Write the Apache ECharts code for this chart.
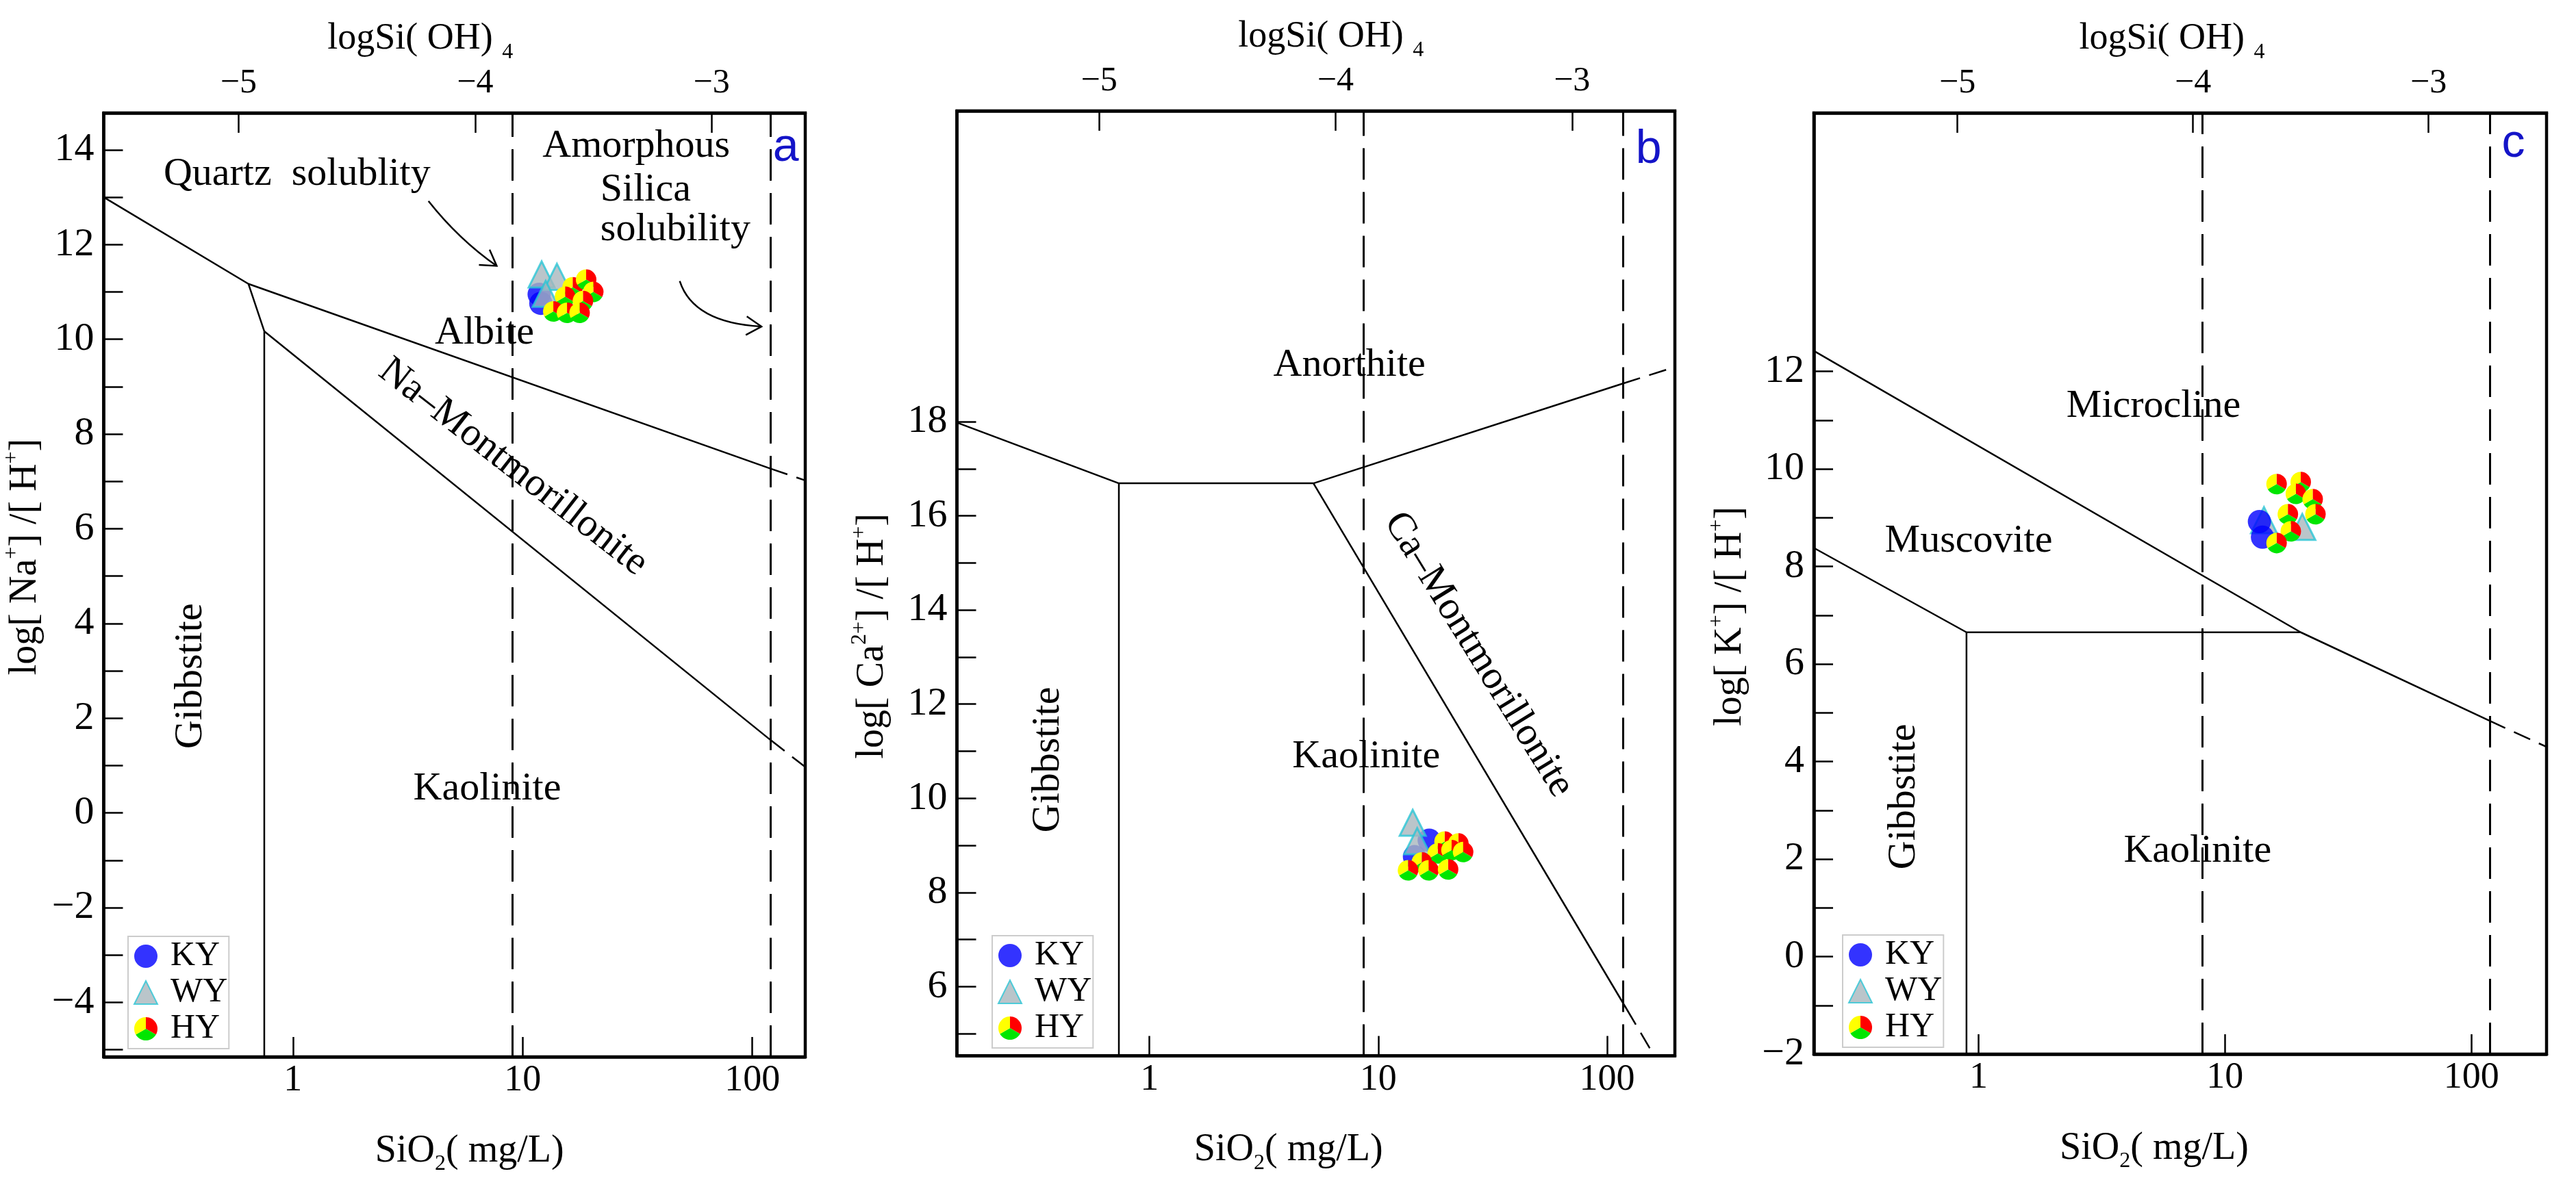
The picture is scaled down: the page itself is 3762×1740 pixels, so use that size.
<!DOCTYPE html>
<html>
<head>
<meta charset="utf-8" />
<title>Silicate stability diagrams</title>
<style>
  html, body { margin: 0; padding: 0; background: #fff; }
  #main { width: 3762px; height: 1740px; }
</style>
</head>
<body>
<div id="main"></div>
<script src="https://cdn.jsdelivr.net/npm/echarts@6/dist/echarts.min.js"></script>
<script>
// ---- axis ranges (SiO2 mg/L on log scale, logSi(OH)4 on top, log ratio on y) ----
var siRangeA = [0.15, 170],  siRangeB = [0.144, 198], siRangeC = [0.2145, 202];
var ohRangeA = [-5.570, -2.604], ohRangeB = [-5.601, -2.565], ohRangeC = [-5.609, -2.499];
var yRangeA = [-5.15, 14.78], yRangeB = [4.53, 24.6], yRangeC = [-2, 17.3];

var siTicks = [1, 10, 100];
var ohTicks = [-5, -4, -3];
var yTicksA = [-5, -4, -3, -2, -1, 0, 1, 2, 3, 4, 5, 6, 7, 8, 9, 10, 11, 12, 13, 14];
var yLabelsA = [-4, -2, 0, 2, 4, 6, 8, 10, 12, 14];
var yTicksB = [5, 6, 7, 8, 9, 10, 11, 12, 13, 14, 15, 16, 17, 18];
var yLabelsB = [6, 8, 10, 12, 14, 16, 18];
var yTicksC = [-2, -1, 0, 1, 2, 3, 4, 5, 6, 7, 8, 9, 10, 11, 12];
var yLabelsC = [-2, 0, 2, 4, 6, 8, 10, 12];

// ---- phase boundaries ----
// a: Na system
var albiteA     = [[0.15, 13.0], [0.64, 11.17], [120, 7.27]];
var albiteDashA = [[120, 7.27], [170, 7.02]];
var gibbsiteA   = [[0.64, 11.17], [0.75, 10.17], [0.75, -5.15]];
var naMontA     = [[0.75, 10.17], [120, 1.54]];
var naMontDashA = [[120, 1.54], [170, 0.97]];
var silicaLinesA = [9.0, 120];
// b: Ca system
var anorthiteB  = [[0.144, 17.98], [0.735, 16.69], [5.21, 16.69], [117.5, 18.81]];
var anorthDashB = [[117.5, 18.81], [198, 19.16]];
var gibbsiteB   = [[0.735, 16.69], [0.735, 4.53]];
var caMontB     = [[5.21, 16.69], [122, 5.52]];
var caMontDashB = [[122, 5.52], [161, 4.53]];
var silicaLinesB = [8.63, 117.5];
// c: K system
var microclineC = [[0.2145, 12.42], [20.3, 6.65], [118, 4.84]];
var microDashC  = [[118, 4.84], [202, 4.30]];
var muscoviteC  = [[0.2145, 8.38], [0.893, 6.65], [20.3, 6.65]];
var gibbsiteC   = [[0.893, 6.65], [0.893, -2]];
var silicaLinesC = [8.1, 119];

// ---- samples [SiO2 mg/L, log ratio] ----
var kyA = [[11.8, 10.95], [12.0, 10.76]];
var wyA = [[12.1, 11.37], [14.1, 11.32], [12.6, 10.96]];
var hyA = [[16.5, 11.10], [18.9, 11.26], [20.3, 11.0], [15.3, 10.90], [18.3, 10.81],
           [13.6, 10.59], [15.6, 10.56], [17.7, 10.56]];
var kyB = [[16.7, 9.11], [14.4, 8.76]];
var wyB = [[14.15, 9.48], [14.8, 9.09]];
var hyB = [[19.5, 9.08], [22.4, 9.04], [18.2, 8.83], [20.9, 8.90], [23.5, 8.86],
           [15.5, 8.64], [13.5, 8.47], [16.6, 8.47], [20.2, 8.49]];
var kyC = [[13.8, 8.92], [14.2, 8.60]];
var wyC = [[14.4, 8.95], [20.6, 8.81]];
var hyC = [[16.2, 9.69], [20.3, 9.73], [19.4, 9.49], [22.7, 9.38], [18.0, 9.07],
           [23.3, 9.07], [18.5, 8.72], [16.2, 8.48]];

// ---- field labels ----
var textA = ['Quartz  solublity', 'Amorphous', 'Silica', 'solubility', 'Albite',
             'Na\u2013Montmorillonite', 'Gibbstite', 'Kaolinite', 'a'];
var textPosA = [[0.2733, 13.48], [12.2, 14.08], [21.8, 13.15], [21.8, 12.31], [6.82, 10.13],
                [9.08, 7.30], [0.36, 2.89], [7.01, 0.50], [140, 14.04]];
var textB = ['Anorthite', 'Ca\u2013Montmorillonite', 'Gibbstite', 'Kaolinite', 'b'];
var textPosB = [[7.48, 19.19], [27.4, 13.05], [0.361, 10.82], [8.86, 10.88], [152, 23.77]];
var textC = ['Microcline', 'Muscovite', 'Gibbstite', 'Kaolinite', 'c'];
var textPosC = [[5.13, 11.28], [0.911, 8.51], [0.50, 3.28], [7.74, 2.16], [148, 16.66]];

// arrows in panel a: [x0, y0, ctrlX, ctrlY, x1, y1]
var arrowsA = [[3.89, 12.92, 5.27, 12.11, 7.71, 11.55],
               [48.3, 11.23, 55.3, 10.35, 109.6, 10.27]];

var FONT = 'Liberation Serif';
var MINUS = function (v) { return String(Math.round(v)).replace('-', '\u2212'); };

var grids = [
  { left: 151.5, top: 165, width: 1024.5, height: 1379 },
  { left: 1397.5, top: 162, width: 1048.5, height: 1380.6 },
  { left: 2649, top: 165, width: 1070, height: 1375 }
];
grids.forEach(function (g) { g.show = true; g.borderColor = '#000'; g.borderWidth = 4.5; });

var supRich = {
  sup: { fontSize: 32, lineHeight: 34, verticalAlign: 'top', fontFamily: FONT, color: '#000' },
  sub: { fontSize: 32, lineHeight: 34, verticalAlign: 'bottom', fontFamily: FONT, color: '#000' }
};

function bottomAxis(i, range, pad) {
  return {
    type: 'log', logBase: 10, gridIndex: i, position: 'bottom', min: range[0], max: range[1],
    axisLine: { show: true, onZero: false, lineStyle: { color: '#000', width: 4.5 } },
    axisTick: { show: true, inside: true, length: 29, customValues: siTicks,
                lineStyle: { color: '#000', width: 2.5 } },
    axisLabel: { customValues: siTicks, margin: 8, fontSize: 54, fontFamily: FONT, color: '#000',
                 formatter: function (v) { return String(Math.round(v)); } },
    splitLine: { show: false }, minorTick: { show: false },
    name: 'SiO{sub|2}( mg/L)', nameLocation: 'middle', nameGap: 103,
    nameTextStyle: { fontSize: 56, fontFamily: FONT, color: '#000', lineHeight: 70, padding: pad, rich: supRich }
  };
}
function topAxis(i, range, pad) {
  return {
    type: 'value', gridIndex: i, position: 'top', min: range[0], max: range[1],
    axisLine: { show: true, onZero: false, lineStyle: { color: '#000', width: 4.5 } },
    axisTick: { show: true, inside: true, length: 29, customValues: ohTicks,
                lineStyle: { color: '#000', width: 2.5 } },
    axisLabel: { customValues: ohTicks, margin: 18, fontSize: 50, fontFamily: FONT, color: '#000', formatter: MINUS },
    splitLine: { show: false },
    name: 'logSi( OH) {sub|4}', nameLocation: 'middle', nameGap: 70,
    nameTextStyle: { fontSize: 54, fontFamily: FONT, color: '#000', lineHeight: 70, padding: pad, rich: supRich }
  };
}
function leftAxis(i, range, ticks, labels, name, gap, pad) {
  return {
    type: 'value', gridIndex: i, position: 'left', min: range[0], max: range[1],
    axisLine: { show: true, onZero: false, lineStyle: { color: '#000', width: 4.5 } },
    axisTick: { show: true, inside: true, length: 28, customValues: ticks,
                lineStyle: { color: '#000', width: 2.5 } },
    axisLabel: { customValues: labels, margin: 14, fontSize: 58, fontFamily: FONT, color: '#000', formatter: MINUS },
    splitLine: { show: false },
    name: name, nameLocation: 'middle', nameGap: gap, nameRotate: 90,
    nameTextStyle: { fontSize: 56, fontFamily: FONT, color: '#000', lineHeight: 70, padding: pad, rich: supRich }
  };
}

function lineSeries(i, pts, dashed, marks) {
  var s = {
    type: 'line', xAxisIndex: i * 2, yAxisIndex: i, data: pts, symbol: 'none', silent: true, z: 2,
    lineStyle: { color: '#000', width: 2.5, type: dashed ? [26, 14] : 'solid' }
  };
  if (marks) {
    s.markLine = {
      silent: true, symbol: ['none', 'none'], label: { show: false },
      lineStyle: { color: '#000', width: 3, type: [46, 18] },
      data: marks.map(function (v) { return { xAxis: v }; })
    };
  }
  return s;
}
function kySeries(i, data, z) {
  return { type: 'scatter', name: 'KY', xAxisIndex: i * 2, yAxisIndex: i, data: data, z: z,
           symbol: 'circle', symbolSize: 34, itemStyle: { color: '#0000ff' } };
}
function wySeries(i, data) {
  return { type: 'scatter', name: 'WY', xAxisIndex: i * 2, yAxisIndex: i, data: data, z: 5,
           symbol: 'triangle', symbolSize: 38,
           itemStyle: { color: '#a9b6bd', borderColor: '#2bc6d6', borderWidth: 3 } };
}
var pieParts = [['#ff0000', -Math.PI / 2, Math.PI / 6],
                ['#00e600', Math.PI / 6, 5 * Math.PI / 6],
                ['#ffff00', 5 * Math.PI / 6, 3 * Math.PI / 2]];
function hySeries(i, data) {
  return {
    type: 'custom', name: 'HY', xAxisIndex: i * 2, yAxisIndex: i, data: data, z: 7,
    itemStyle: { color: '#ff0000' },
    renderItem: function (params, api) {
      var c = api.coord([api.value(0), api.value(1)]);
      return {
        type: 'group',
        children: pieParts.map(function (p) {
          return { type: 'sector',
                   shape: { cx: c[0], cy: c[1], r0: 0, r: 15, startAngle: p[1], endAngle: p[2], clockwise: true },
                   style: { fill: p[0] } };
        })
      };
    }
  };
}
function textSeries(i, texts, pos, styles) {
  return {
    type: 'custom', xAxisIndex: i * 2, yAxisIndex: i, data: pos, z: 8, silent: true,
    renderItem: function (params, api) {
      var p = api.coord([api.value(0), api.value(1)]);
      var st = styles[params.dataIndex] || {};
      return {
        type: 'text', x: p[0], y: p[1], rotation: st.rot || 0,
        style: { text: texts[params.dataIndex], fill: st.color || '#000',
                 fontSize: st.size || 58, fontFamily: st.family || FONT,
                 align: st.align || 'center', verticalAlign: 'middle' }
      };
    }
  };
}
function arrowSeries(i, data) {
  return {
    type: 'custom', xAxisIndex: i * 2, yAxisIndex: i, data: data, z: 8, silent: true,
    renderItem: function (params, api) {
      var p0 = api.coord([api.value(0), api.value(1)]);
      var pc = api.coord([api.value(2), api.value(3)]);
      var p1 = api.coord([api.value(4), api.value(5)]);
      var ang = Math.atan2(p1[1] - pc[1], p1[0] - pc[0]);
      var L = 26, w = 0.55;
      var st = { stroke: '#000', lineWidth: 2.5, fill: null };
      return {
        type: 'group',
        children: [
          { type: 'bezierCurve', shape: { x1: p0[0], y1: p0[1], cpx1: pc[0], cpy1: pc[1], x2: p1[0], y2: p1[1] }, style: st },
          { type: 'polyline', shape: { points: [
              [p1[0] - L * Math.cos(ang - w), p1[1] - L * Math.sin(ang - w)], p1,
              [p1[0] - L * Math.cos(ang + w), p1[1] - L * Math.sin(ang + w)]] }, style: st }
        ]
      };
    }
  };
}

var letterStyle = { size: 68, family: 'Liberation Sans', color: '#1414c8' };
var stylesA = [{ align: 'left' }, { align: 'left' }, { align: 'left' }, { align: 'left' }, {},
               { rot: -0.661 }, { rot: Math.PI / 2 }, {}, letterStyle];
var stylesB = [{}, { rot: -1.018 }, { rot: Math.PI / 2 }, {}, letterStyle];
var stylesC = [{}, {}, { rot: Math.PI / 2 }, {}, letterStyle];

var hySvg = "<svg xmlns='http://www.w3.org/2000/svg' width='40' height='40' viewBox='-10 -10 20 20'>" +
  "<path d='M0 0 L0 -10 A10 10 0 0 1 8.66 5 Z' fill='#ff0000'/>" +
  "<path d='M0 0 L8.66 5 A10 10 0 0 1 -8.66 5 Z' fill='#00e600'/>" +
  "<path d='M0 0 L-8.66 5 A10 10 0 0 1 0 -10 Z' fill='#ffff00'/></svg>";
var hyIcon = 'image://data:image/svg+xml;charset=utf-8,' + encodeURIComponent(hySvg);

function legendAt(left, top) {
  return {
    left: left, top: top, orient: 'vertical', selectedMode: false,
    data: [{ name: 'KY', icon: 'circle' }, { name: 'WY', icon: 'triangle' }, { name: 'HY', icon: hyIcon }],
    itemWidth: 34, itemHeight: 34, itemGap: 3,
    padding: [4, 2, 4, 8], borderColor: '#cccccc', borderWidth: 2,
    textStyle: { fontSize: 50, fontFamily: FONT, color: '#000', lineHeight: 50, padding: [0, 0, 0, 14] }
  };
}

var option = {
  animation: false,
  backgroundColor: '#fff',
  grid: grids,
  legend: [legendAt(187, 1368), legendAt(1449, 1367), legendAt(2691, 1366)],
  xAxis: [
    bottomAxis(0, siRangeA, [0, 0, 0, 44]), topAxis(0, ohRangeA, [0, 100, 0, 0]),
    bottomAxis(1, siRangeB, [0, 80, 0, 0]), topAxis(1, ohRangeB, [0, 0, 0, 44]),
    bottomAxis(2, siRangeC, [0, 76, 0, 0]), topAxis(2, ohRangeC, [0, 24, 0, 0])
  ],
  yAxis: [
    leftAxis(0, yRangeA, yTicksA, yLabelsA, 'log[ Na{sup|+}] /[ H{sup|+}]', 59, [0, 0, 0, 82]),
    leftAxis(1, yRangeB, yTicksB, yLabelsB, 'log[ Ca{sup|2+}] /[ H{sup|+}]', 88, [0, 154, 0, 0]),
    leftAxis(2, yRangeC, yTicksC, yLabelsC, 'log[ K{sup|+}] /[ H{sup|+}]', 87, [0, 96, 0, 0])
  ],
  series: [
    lineSeries(0, albiteA, false, silicaLinesA), lineSeries(0, albiteDashA, true),
    lineSeries(0, gibbsiteA, false), lineSeries(0, naMontA, false), lineSeries(0, naMontDashA, true),
    kySeries(0, kyA, 4), wySeries(0, wyA), hySeries(0, hyA),
    textSeries(0, textA, textPosA, stylesA), arrowSeries(0, arrowsA),

    lineSeries(1, anorthiteB, false, silicaLinesB), lineSeries(1, anorthDashB, true),
    lineSeries(1, gibbsiteB, false), lineSeries(1, caMontB, false), lineSeries(1, caMontDashB, true),
    kySeries(1, kyB, 4), wySeries(1, wyB), hySeries(1, hyB),
    textSeries(1, textB, textPosB, stylesB),

    lineSeries(2, microclineC, false, silicaLinesC), lineSeries(2, microDashC, true),
    lineSeries(2, muscoviteC, false), lineSeries(2, gibbsiteC, false),
    kySeries(2, kyC, 6), wySeries(2, wyC), hySeries(2, hyC),
    textSeries(2, textC, textPosC, stylesC)
  ]
};

var myChart = echarts.init(document.getElementById('main'));
myChart.setOption(option);
window.addEventListener('resize', myChart.resize);
</script>
</body>
</html>
